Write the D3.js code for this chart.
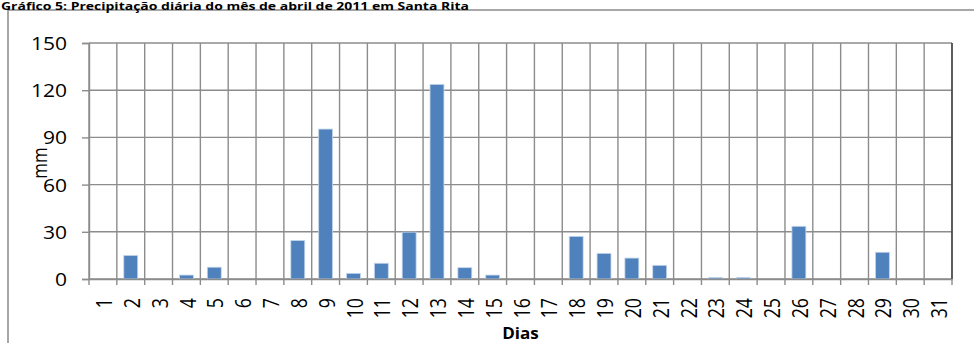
<!DOCTYPE html>
<html>
<head>
<meta charset="utf-8">
<script src="https://cdn.jsdelivr.net/npm/d3@7"></script>
<style>
  html, body { margin: 0; padding: 0; background: #fff; }
  svg { display: block; }
  text { font-family: "Open Sans", "DejaVu Sans", sans-serif; fill: #000; }
</style>
</head>
<body>
<svg id="chart" width="974" height="343"></svg>
<script>
// Daily rainfall (mm), April 2011, Santa Rita
const days = d3.range(1, 32).map(String);
const rainfall = [0, 15, 0, 2.5, 7.5, 0, 0, 24.5, 95.3, 3.6, 10, 29.8, 123.7, 7.2, 2.5, 0,
                  0, 27.1, 16.3, 13.3, 8.7, 0, 1, 1, 0, 33.5, 0, 0, 17, 0, 0];
const yTicks = [0, 30, 60, 90, 120, 150];

const titleText = "Gráfico 5: Precipitação diária do mês de abril de 2011 em Santa Rita";
const xTitle = "Dias";
const yTitle = "mm";

const svg = d3.select("#chart");
const plot = { left: 89, right: 952, top: 43, bottom: 279 };
const stretch = 1.18;   // labels are drawn slightly wide

// Category boundaries (gridlines) and bar placement
const xCat = d3.scaleBand().domain(days).range([plot.left, plot.right]).padding(0);
const xBar = d3.scaleBand().domain(days).range([plot.left, plot.right])
  .paddingInner(0.5).paddingOuter(0.25);
const y = d3.scaleLinear().domain([0, 150]).range([plot.bottom, plot.top]);

// Outer chart frame
svg.append("rect")
  .attr("x", 8).attr("y", 10).attr("width", 1000).attr("height", 400)
  .attr("fill", "none").attr("stroke", "#8a8a8a").attr("stroke-width", 1.5);

// Title
svg.append("text")
  .attr("x", 1).attr("y", 9.5)
  .attr("font-size", 10).attr("font-weight", "bold")
  .attr("textLength", 468).attr("lengthAdjust", "spacingAndGlyphs")
  .text(titleText);

const gridColor = "#8c8c8c";

// Horizontal gridlines
svg.append("g").selectAll("line").data(yTicks).join("line")
  .attr("x1", plot.left).attr("x2", plot.right)
  .attr("y1", d => y(d)).attr("y2", d => y(d))
  .attr("stroke", gridColor).attr("stroke-width", 1.4);

// Vertical gridlines at category boundaries, extended down as tick marks
const bounds = days.map(d => xCat(d)).concat([plot.right]);
svg.append("g").selectAll("line").data(bounds).join("line")
  .attr("x1", d => d).attr("x2", d => d)
  .attr("y1", plot.top).attr("y2", plot.bottom + 6)
  .attr("stroke", gridColor).attr("stroke-width", 1.4);

// Right edge of plot area
svg.append("line")
  .attr("x1", plot.right).attr("x2", plot.right)
  .attr("y1", plot.top).attr("y2", plot.bottom)
  .attr("stroke", "#3a3a3a").attr("stroke-width", 1.4);

// Bars
svg.append("g").selectAll("rect").data(rainfall).join("rect")
  .attr("x", (d, i) => xBar(days[i]))
  .attr("width", xBar.bandwidth())
  .attr("y", d => y(d))
  .attr("height", d => y(0) - y(d))
  .attr("fill", "#4f81bd")
  .attr("stroke", "#c5d6ea").attr("stroke-width", 0.8);

// Y axis
const yAxis = svg.append("g")
  .attr("transform", `translate(${plot.left},0)`)
  .call(d3.axisLeft(y).tickValues(yTicks).tickSize(7).tickFormat(d3.format("d")));
yAxis.select(".domain").attr("stroke", gridColor).attr("stroke-width", 1.4);
yAxis.selectAll(".tick line").attr("stroke", gridColor).attr("stroke-width", 1.4);
yAxis.selectAll(".tick text")
  .attr("x", null).attr("dy", "0.36em")
  .attr("transform", `translate(-22,0) scale(${stretch},1)`)
  .attr("font-size", 17.8).attr("font-family", "'Open Sans', sans-serif")
  .attr("fill", "#111");

// X axis (labels at category centres, rotated)
const xAxis = svg.append("g")
  .attr("transform", `translate(0,${plot.bottom})`)
  .call(d3.axisBottom(xCat).tickSize(0));
xAxis.select(".domain").attr("stroke", gridColor).attr("stroke-width", 1.4);
xAxis.selectAll(".tick text")
  .attr("y", null).attr("dy", "0.36em")
  .attr("text-anchor", "end")
  .attr("transform", `translate(1.5,19) scale(${stretch},1) rotate(-90)`)
  .attr("font-size", 17.8).attr("font-family", "'Open Sans', sans-serif")
  .attr("fill", "#111");

// Axis titles
svg.append("text")
  .attr("text-anchor", "middle")
  .attr("transform", `translate(${(plot.left + plot.right) / 2},339) scale(1.1,1)`)
  .attr("font-size", 15.5).attr("font-weight", "bold")
  .text(xTitle);

svg.append("text")
  .attr("text-anchor", "middle")
  .attr("transform", `translate(47,${(plot.top + plot.bottom) / 2 + 2}) scale(${stretch},1) rotate(-90)`)
  .attr("font-size", 17).attr("fill", "#111")
  .text(yTitle);
</script>
</body>
</html>
